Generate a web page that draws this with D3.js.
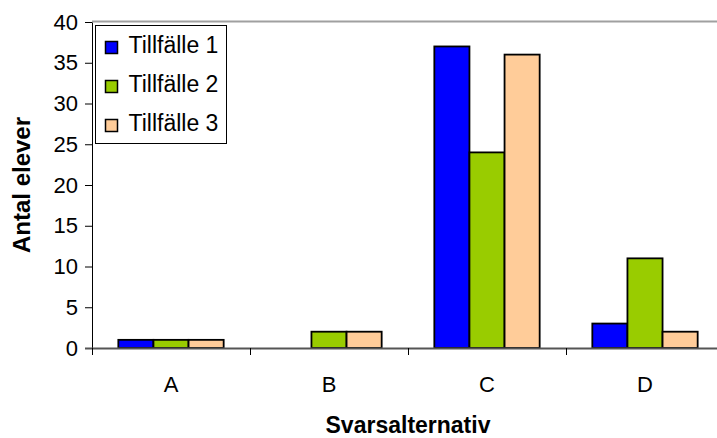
<!DOCTYPE html>
<html>
<head>
<meta charset="utf-8">
<script src="https://cdn.jsdelivr.net/npm/d3@7"></script>
<style>
  body { margin: 0; background: #fff; }
  text { font-family: Arial, "Liberation Sans", sans-serif; fill: #000; }
</style>
</head>
<body>
<div class="chart"></div>
<script>
const categories = ['A', 'B', 'C', 'D']
const seriesNames = ['Tillfälle 1', 'Tillfälle 2', 'Tillfälle 3']
const tillfalle1 = [1, 0, 37, 3]
const tillfalle2 = [1, 2, 24, 11]
const tillfalle3 = [1, 2, 36, 2]
const yTicks = [0, 5, 10, 15, 20, 25, 30, 35, 40]
const colors = ['#0000ff', '#99cc00', '#ffcc99']

const series = [tillfalle1, tillfalle2, tillfalle3]

const width = 717
const height = 438
const margin = { top: 22, right: -7, bottom: 90, left: 92 }

const svg = d3
  .select('.chart')
  .append('svg')
  .attr('width', width)
  .attr('height', height)

const xScale = d3
  .scaleBand()
  .domain(categories)
  .range([margin.left, width - margin.right])

// excel style gap width 150%
const barWidth = xScale.bandwidth() / 4.5
const groupOffset = (xScale.bandwidth() - 3 * barWidth) / 2
const xInner = d3
  .scaleBand()
  .domain(d3.range(series.length))
  .range([groupOffset, groupOffset + 3 * barWidth])

const yScale = d3
  .scaleLinear()
  .domain([0, 40])
  .range([height - margin.bottom, margin.top])

const y0 = yScale(0)

// top border of plot area
svg
  .append('line')
  .attr('x1', margin.left)
  .attr('x2', width)
  .attr('y1', yScale(40) - 0.5)
  .attr('y2', yScale(40) - 0.5)
  .attr('stroke', '#a0a0a0')
  .attr('stroke-width', 2)

// bars
series.forEach((values, si) => {
  svg
    .append('g')
    .selectAll('rect')
    .data(values)
    .enter()
    .append('rect')
    .attr('x', (d, i) => xScale(categories[i]) + xInner(si))
    .attr('y', d => yScale(d))
    .attr('width', xInner.bandwidth())
    .attr('height', d => y0 - yScale(d))
    .attr('fill', colors[si])
    .attr('stroke', '#000')
    .attr('stroke-width', 1.8)
    .style('display', d => d === 0 ? 'none' : null)
})

// y axis
const yAxis = svg
  .append('g')
  .attr('transform', `translate(${margin.left}, 0)`)
  .call(d3.axisLeft(yScale).tickValues(yTicks).tickSize(7).tickPadding(7).tickSizeOuter(0))
yAxis.select('.domain').attr('stroke', '#000')
yAxis.selectAll('.tick line').attr('stroke', '#000')
yAxis.selectAll('.tick text').style('font-size', '22px').attr('fill', '#000')

// x axis line
svg
  .append('line')
  .attr('x1', margin.left - 7)
  .attr('x2', width)
  .attr('y1', y0 + 0.5)
  .attr('y2', y0 + 0.5)
  .attr('stroke', '#555')
  .attr('stroke-width', 2)

// ticks between categories
const boundaries = categories.map(c => xScale(c))
svg
  .append('g')
  .selectAll('line')
  .data(boundaries)
  .enter()
  .append('line')
  .attr('x1', d => Math.round(d) + 0.5)
  .attr('x2', d => Math.round(d) + 0.5)
  .attr('y1', y0)
  .attr('y2', y0 + 7)
  .attr('stroke', '#000')

// category labels
svg
  .append('g')
  .selectAll('text')
  .data(categories)
  .enter()
  .append('text')
  .attr('x', d => xScale(d) + xScale.bandwidth() / 2)
  .attr('y', 392)
  .attr('text-anchor', 'middle')
  .style('font-size', '22px')
  .text(d => d)

// axis titles
svg
  .append('text')
  .attr('x', (margin.left + width - margin.right) / 2)
  .attr('y', 433)
  .attr('text-anchor', 'middle')
  .style('font-size', '23px')
  .style('font-weight', 'bold')
  .text('Svarsalternativ')

svg
  .append('text')
  .attr('transform', `translate(30, ${(yScale(0) + yScale(40)) / 2}) rotate(-90)`)
  .attr('text-anchor', 'middle')
  .style('font-size', '24px')
  .style('font-weight', 'bold')
  .text('Antal elever')

/* Legend */
const legend = svg.append('g').attr('transform', 'translate(95.5, 25.5)')
legend
  .append('rect')
  .attr('width', 131)
  .attr('height', 118)
  .attr('fill', '#fff')
  .attr('stroke', '#000')

const legendRow = legend
  .selectAll('.legendRow')
  .data(seriesNames)
  .enter()
  .append('g')
  .attr('class', 'legendRow')
  .attr('transform', (d, i) => `translate(0, ${i * 39})`)

legendRow
  .append('rect')
  .attr('x', 10)
  .attr('y', 16)
  .attr('width', 12)
  .attr('height', 12)
  .attr('fill', (d, i) => colors[i])
  .attr('stroke', '#000')
  .attr('stroke-width', 1.5)

legendRow
  .append('text')
  .attr('x', 33)
  .attr('y', 27)
  .style('font-size', '23px')
  .text(d => d)
</script>
</body>
</html>
